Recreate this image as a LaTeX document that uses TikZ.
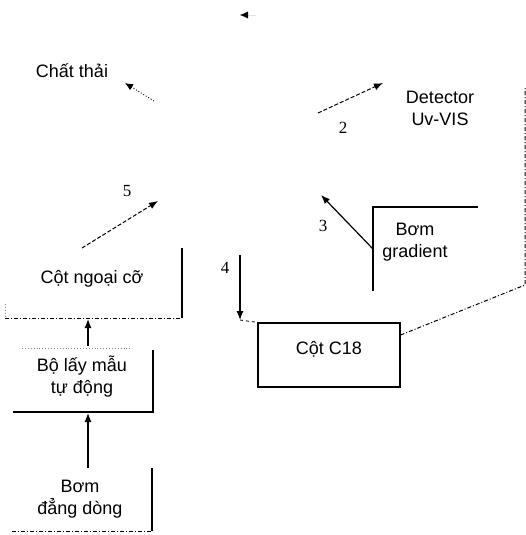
\documentclass[tikz,border=0pt]{standalone}
\usepackage{fontspec}
\setmainfont{Liberation Sans}
\newfontfamily\numfont{Liberation Serif}
\usetikzlibrary{arrows.meta}
\begin{document}
\begin{tikzpicture}[x=1pt,y=-1pt,
  lbl/.style={font=\fontsize{18}{22}\selectfont, align=center, inner sep=0pt},
  num/.style={font=\numfont\fontsize{17}{17}\selectfont, inner sep=0pt},
  edge/.style={line width=1.2pt},
  faint/.style={line width=1pt, dash pattern=on 4pt off 2pt on 1pt off 2pt},
  dotline/.style={line width=0.9pt, dotted, gray},
  arr/.style={-{Latex[length=9pt,width=7pt]}, line width=1.2pt},
  darr/.style={-{Latex[length=9pt,width=7pt]}, line width=1pt, dash pattern=on 4pt off 2pt}]
\useasboundingbox (0,0) rectangle (526,535);

% text nodes
\node[lbl] (waste) at (72,71) {Chất thải};
\node[lbl] (det) at (440,108) {Detector\\Uv-VIS};
\node[lbl] (ngoai) at (92,279) {Cột ngoại cỡ};
\node[lbl] (sampler) at (82,377) {Bộ lấy mẫu\\tự động};
\node[lbl] (pump) at (80,499) {Bơm\\đẳng dòng};
\node[lbl] (grad) at (415,242) {Bơm\\gradient};
\node[draw, edge, minimum width=142pt, minimum height=64pt, inner sep=0pt] (c18) at (329,355) {};
\node[lbl] (c18t) at (329,349) {Cột C18};

% number labels
\node[num] (n5) at (127,191) {5};
\node[num] (n2) at (343,128) {2};
\node[num] (n3) at (323,226) {3};
\node[num] (n4) at (225,268) {4};

% coordinates
\coordinate (topA) at (256,15);
\coordinate (topB) at (240,15);
\coordinate (w1) at (154,101);
\coordinate (w2) at (125,83);
\coordinate (d1) at (318,113);
\coordinate (d2) at (383,83);
\coordinate (f1) at (82,248);
\coordinate (f2) at (158,201);
\coordinate (g1) at (373,249);
\coordinate (g2) at (321,195);
\coordinate (k1) at (240,255);
\coordinate (k2) at (240,320);
\coordinate (r1) at (525,285);
\coordinate (r2) at (525,88);
\coordinate (s1) at (88,346);
\coordinate (s2) at (88,319);
\coordinate (p1) at (88,468);
\coordinate (p2) at (88,413);

% partial box edges
\draw[edge] (182,248) -- (182,318);
\draw[faint] (5,318) -- (182,318);
\draw[dotline] (5,304) -- (5,318);
\draw[dotline] (22,348) -- (132,348);
\draw[edge] (153,350) -- (153,412) -- (13,412);
\draw[edge] (152,468) -- (152,531);
\draw[faint] (12,531) -- (152,531);
\draw[edge] (478,207) -- (373,207) -- (373,291);

% connectors
\draw[-{Latex[length=8pt,width=7pt,color=black]}, line width=0.3pt, white!90!black] (topA) -- (topB);
\draw[-{Latex[length=8pt,width=7pt]}, line width=0.9pt, dotted] (w1) -- (w2);
\draw[darr] (d1) -- (d2);
\draw[darr] (f1) -- (f2);
\draw[arr] (g1) -- (g2);
\draw[arr] (k1) -- (k2);
\draw[line width=0.8pt, dashed] (k2) -- (c18.north west);
\draw[faint] ([yshift=20pt]c18.east) -- (r1) -- (r2);
\draw[arr] (s1) -- (s2);
\draw[arr] (p1) -- (p2);
\end{tikzpicture}
\end{document}
